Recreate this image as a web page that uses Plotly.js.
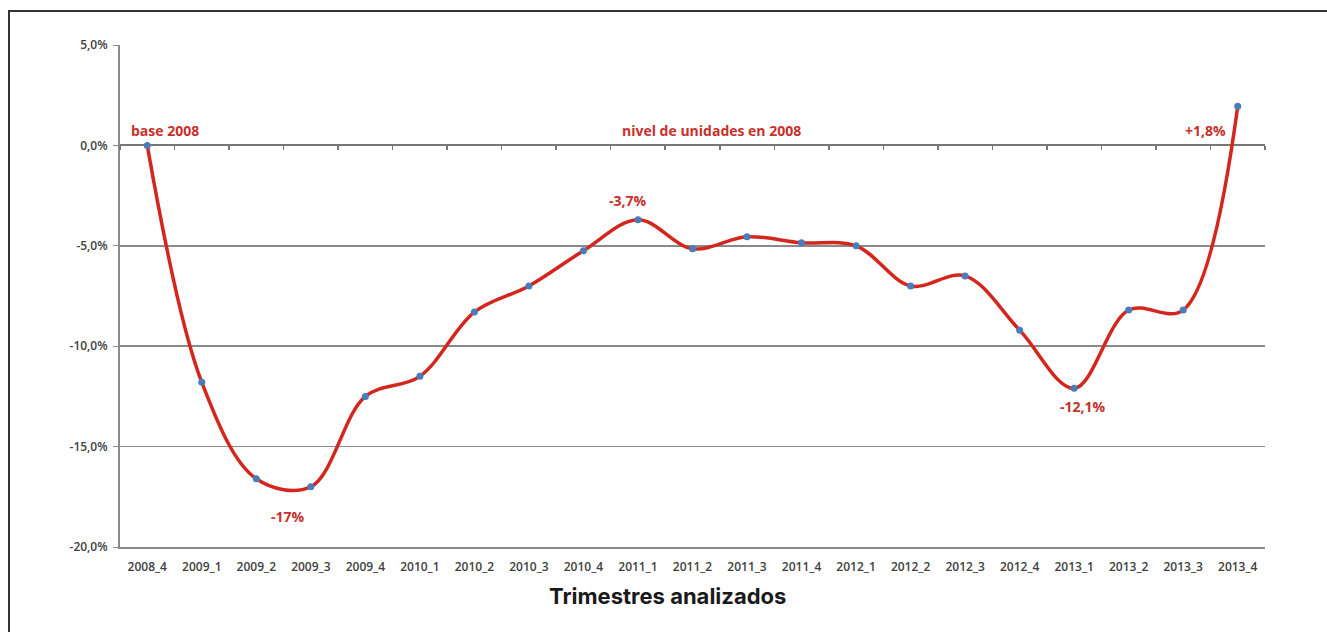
<!DOCTYPE html>
<html>
<head>
<meta charset="utf-8">
<script src="https://cdn.plot.ly/plotly-3.0.1.min.js"></script>
<style>
  html, body { margin:0; padding:0; background:#fff; overflow:hidden; }
  #frame { position:absolute; left:8px; top:10px; width:1330px; height:640px; border:2px solid #333; box-sizing:border-box; }
  #chart { position:absolute; left:0; top:0; width:1327px; height:632px; }
</style>
</head>
<body>
<div id="frame"></div>
<div id="chart"></div>
<script>
// Data
const quarters = ["2008_4","2009_1","2009_2","2009_3","2009_4","2010_1","2010_2","2010_3","2010_4",
  "2011_1","2011_2","2011_3","2011_4","2012_1","2012_2","2012_3","2012_4","2013_1","2013_2","2013_3","2013_4"];
const variation = [0, -11.8, -16.6, -17.0, -12.5, -11.5, -8.3, -7.0, -5.25,
  -3.7, -5.15, -4.55, -4.85, -5.0, -7.0, -6.5, -9.2, -12.1, -8.2, -8.2, 1.95];
const yTickVals = [5, 0, -5, -10, -15, -20];
const yTickText = ["5,0%", "0,0%", "-5,0%", "-10,0%", "-15,0%", "-20,0%"];
const annotText = ["base 2008", "nivel de unidades en 2008", "-3,7%", "-17%", "-12,1%", "+1,8%"];
const annotX = [0.33, 10.35, 8.82, 2.59, 17.16, 19.4];
const annotY = [0.75, 0.75, -2.75, -18.5, -13.0, 0.75];
const xTitle = "Trimestres analizados";

const red = "#d3261d";
const annRed = "#c8302c";

const traces = [
  {
    x: quarters, y: variation, type: "scatter", mode: "lines+markers",
    line: {shape: "spline", smoothing: 1, color: red, width: 3.5},
    marker: {color: "#4a7cba", size: 7},
    hoverinfo: "x+y", showlegend: false
  },
  {
    x: quarters, y: variation, xaxis: "x2", type: "scatter", mode: "lines",
    line: {width: 0}, opacity: 0, hoverinfo: "skip", showlegend: false
  }
];

const annotations = annotText.map((t, i) => ({
  text: "<b>" + t + "</b>", x: annotX[i], y: annotY[i], xref: "x", yref: "y",
  showarrow: false, xanchor: "center", yanchor: "middle",
  font: {family: "Open Sans, sans-serif", size: 14, color: annRed}
}));
annotations.push({
  text: "<b>" + xTitle + "</b>", xref: "paper", yref: "paper",
  x: 0.478, y: -0.098, showarrow: false, xanchor: "center", yanchor: "middle",
  font: {family: "Inter, sans-serif", size: 22, color: "#1a1a1a"}
});

const layout = {
  width: 1327, height: 632,
  margin: {l: 120, r: 62, t: 45, b: 85},
  paper_bgcolor: "rgba(0,0,0,0)", plot_bgcolor: "rgba(0,0,0,0)",
  showlegend: false,
  xaxis: {
    type: "category", range: [-0.5, 20.5], showgrid: false, zeroline: false,
    showline: true, linecolor: "#8a8a8a", linewidth: 2, ticks: "",
    ticklabelstandoff: 8,
    tickfont: {family: "Open Sans, sans-serif", size: 12, color: "#404040", weight: 600},
    fixedrange: true
  },
  xaxis2: {
    type: "category", overlaying: "x", anchor: "free", position: 0.8,
    range: [-0.5, 20.5], showgrid: false, zeroline: false, showline: false,
    ticks: "outside", ticklen: 4, tickwidth: 1.5, tickcolor: "#777",
    tickson: "boundaries", showticklabels: false
  },
  yaxis: {
    range: [-20, 5], tickvals: yTickVals, ticktext: yTickText,
    showgrid: true, gridcolor: "#8a8a8a", gridwidth: 1.5,
    zeroline: true, zerolinecolor: "#777", zerolinewidth: 2,
    showline: true, linecolor: "#8a8a8a", linewidth: 2,
    ticks: "outside", ticklen: 5, tickcolor: "#8a8a8a",
    ticklabelstandoff: 3,
    tickfont: {family: "Open Sans, sans-serif", size: 12, color: "#404040", weight: 600},
    fixedrange: true
  },
  annotations: annotations
};

Plotly.newPlot("chart", traces, layout, {displayModeBar: false, staticPlot: true});
</script>
</body>
</html>
